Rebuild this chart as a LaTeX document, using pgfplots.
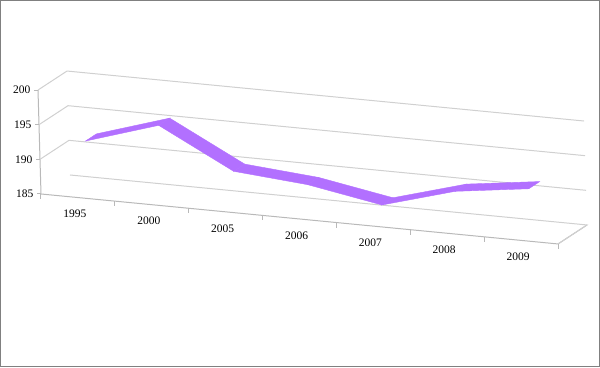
\documentclass[border=0pt]{standalone}
\usepackage{pgfplots}
\pgfplotsset{compat=1.18}
\usepackage{fontspec}
\setmainfont{Liberation Serif}
\definecolor{ribbon}{RGB}{178,112,255}
\definecolor{gridc}{RGB}{208,208,208}
\definecolor{axisc}{RGB}{185,185,185}
\definecolor{framec}{RGB}{128,128,128}
\begin{document}
\begin{tikzpicture}
\begin{axis}[
  disabledatascaling,
  x={(73.86pt,-7.14pt)}, y={(29pt,19pt)}, z={(-0.2pt,6.93pt)},
  xmin=0, xmax=7, ymin=0, ymax=1, zmin=185, zmax=200,
  axis lines*=left,
  axis line style={axisc, line width=1pt},
  xtick={0.5,1.5,2.5,3.5,4.5,5.5,6.5},
  xticklabels={1995,2000,2005,2006,2007,2008,2009},
  ytick=\empty,
  ztick={185,190,195,200},
  tick style={draw=none},
  tick label style={font=\fontsize{11.5}{13}\selectfont, text=black},
  xticklabel style={anchor=north, yshift=-9pt, xshift=-3pt},
  zticklabel style={anchor=east, xshift=-4pt},
  /pgf/number format/assume math mode=true,
  clip=false,
]
\draw[gridc, line width=1pt] (axis cs:0,0,190) -- (axis cs:0,1,190) -- (axis cs:7,1,190);
\draw[gridc, line width=1pt] (axis cs:0,0,195) -- (axis cs:0,1,195) -- (axis cs:7,1,195);
\draw[gridc, line width=1pt] (axis cs:0,0,200) -- (axis cs:0,1,200) -- (axis cs:7,1,200);
\draw[gridc, line width=1pt] (axis cs:0,1,185) -- (axis cs:7,1,185) -- (axis cs:7,0,185);
\pgfplotsinvokeforeach{0,1,2,3,4,5,6,7}{
  \draw[axisc, line width=1pt] (axis cs:#1,0,185) -- ++(0pt,-5pt);
}
\pgfplotsinvokeforeach{185,190,195,200}{
  \draw[axisc, line width=1pt] (axis cs:0,0,#1) -- ++(-4pt,0pt);
}
\coordinate (O) at (axis cs:0,0,185);
\addplot3[surf, shader=flat, colormap={rb}{color=(ribbon) color=(ribbon)}] table {
x y z
0.5 0.31 192.3
1.5 0.31 195.6
2.5 0.31 190.0
3.5 0.31 189.1
4.5 0.31 187.2
5.5 0.31 190.2
6.5 0.31 191.6

0.5 0.69 192.3
1.5 0.69 195.6
2.5 0.69 190.0
3.5 0.69 189.1
4.5 0.69 187.2
5.5 0.69 190.2
6.5 0.69 191.6
};
\end{axis}
\pgfresetboundingbox
\path[use as bounding box] ([shift={(-41pt,-173pt)}]O) rectangle ++(600pt,367pt);
\draw[framec, line width=1.5pt] ([shift={(-40.25pt,-172.25pt)}]O) rectangle ++(598.5pt,365.5pt);
\end{tikzpicture}
\end{document}
